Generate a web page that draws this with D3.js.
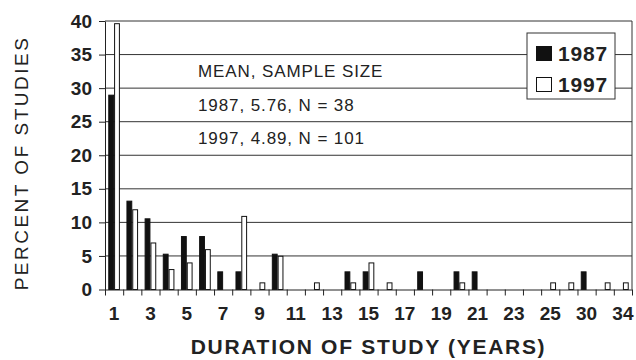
<!DOCTYPE html>
<html>
<head>
<meta charset="utf-8">
<script src="https://cdn.jsdelivr.net/npm/d3@7"></script>
<style>
  body { margin: 0; background: #fff; }
  svg { display: block; font-family: "Liberation Sans", Arial, Helvetica, sans-serif; }
</style>
</head>
<body>
<div class="chart"></div>
<script>
// duration categories (years) and which ones get a label
const categories = ['1','2','3','4','5','6','7','8','9','10','11','12','13','14','15','16','17','18','19','20','21','22','23','24','25','28','30','32','34'];
const tickLabels = ['1','3','5','7','9','11','13','15','17','19','21','23','25','30','34'];
const series = ['1987', '1997'];

// percent of studies
const pct1987 = [28.95,13.16,10.53,5.26,7.89,7.89,2.63,2.63,0,5.26,0,0,0,2.63,2.63,0,0,2.63,0,2.63,2.63,0,0,0,0,0,2.63,0,0];
const pct1997 = [39.60,11.88,6.93,2.97,3.96,5.94,0,10.89,0.99,4.95,0,0.99,0,0.99,3.96,0.99,0,0,0,0.99,0,0,0,0,0.99,0.99,0,0.99,0.99];

const yTicks = [0,5,10,15,20,25,30,35,40];
const notes = ['MEAN, SAMPLE SIZE', '1987, 5.76, N = 38', '1997, 4.89, N = 101'];
const notePos = [32.5, 27.5, 22.5];

const width = 636, height = 360;
const plotLeft = 105, plotRight = 632, plotTop = 21, plotBottom = 289.5;

const svg = d3.select('.chart')
    .append('svg')
    .attr('width', width)
    .attr('height', height);

const x = d3.scaleBand()
    .domain(categories)
    .range([plotLeft, plotRight])
    .paddingInner(0.36)
    .paddingOuter(0.18);

const xSub = d3.scaleBand()
    .domain(series)
    .range([0, x.bandwidth()]);

// boundaries between categories, for the tick marks
const xIdx = d3.scaleLinear()
    .domain([0, categories.length])
    .range([plotLeft, plotRight]);

const y = d3.scaleLinear()
    .domain([0, 40])
    .range([plotBottom, plotTop]);

const data = categories.map((c, i) => ({cat: c, '1987': pct1987[i], '1997': pct1997[i]}));

// grid
svg.append('g')
    .selectAll('line')
    .data(yTicks.filter(d => d > 0))
    .enter()
    .append('line')
    .attr('x1', plotLeft)
    .attr('x2', plotRight)
    .attr('y1', d => y(d))
    .attr('y2', d => y(d))
    .attr('stroke', '#333')
    .attr('stroke-width', 1);

// right frame
svg.append('line')
    .attr('x1', plotRight).attr('x2', plotRight)
    .attr('y1', y(40)).attr('y2', y(0))
    .attr('stroke', '#333')
    .attr('stroke-width', 1);

// notes
svg.append('g')
    .selectAll('text')
    .data(notes)
    .enter()
    .append('text')
    .attr('x', 198)
    .attr('y', (d, i) => y(notePos[i]) + 6)
    .attr('font-size', 17)
    .attr('letter-spacing', 0.9)
    .attr('fill', '#222')
    .text(d => d);

// bars
const groups = svg.append('g')
    .selectAll('g')
    .data(data)
    .enter()
    .append('g')
    .attr('transform', d => `translate(${x(d.cat)},0)`);

groups.selectAll('rect')
    .data(d => series.map(s => ({key: s, value: d[s]})).filter(v => v.value > 0))
    .enter()
    .append('rect')
    .attr('x', d => xSub(d.key) + 0.5)
    .attr('y', d => y(d.value))
    .attr('width', xSub.bandwidth() - 1)
    .attr('height', d => y(0) - y(d.value))
    .attr('fill', d => d.key === '1987' ? '#111' : '#fff')
    .attr('stroke', '#111')
    .attr('stroke-width', 1);

// x axis: ticks on category boundaries
svg.append('g')
    .attr('transform', `translate(0,${plotBottom})`)
    .call(d3.axisBottom(xIdx).tickValues(d3.range(0, categories.length + 1)).tickFormat('').tickSize(6).tickSizeOuter(0))
    .call(g => g.selectAll('line,path').attr('stroke', '#222'));

// x axis labels at category centres
svg.append('g')
    .attr('transform', `translate(0,${plotBottom})`)
    .call(d3.axisBottom(x).tickValues(tickLabels).tickSize(0).tickPadding(17))
    .call(g => g.select('.domain').remove())
    .selectAll('text')
    .attr('font-family', '"Liberation Sans", Arial, sans-serif')
    .attr('font-size', 19)
    .attr('font-weight', 'bold')
    .attr('fill', '#222');

// y axis
svg.append('g')
    .attr('transform', `translate(${plotLeft},0)`)
    .call(d3.axisLeft(y).tickValues(yTicks).tickSize(6).tickPadding(7).tickSizeOuter(0))
    .call(g => g.selectAll('line,path').attr('stroke', '#222'))
    .selectAll('text')
    .attr('font-family', '"Liberation Sans", Arial, sans-serif')
    .attr('font-size', 19)
    .attr('font-weight', 'bold')
    .attr('fill', '#222');

// axis titles
svg.append('text')
    .attr('x', (plotLeft + plotRight) / 2)
    .attr('y', 354)
    .attr('text-anchor', 'middle')
    .attr('font-size', 21)
    .attr('font-weight', 'bold')
    .attr('letter-spacing', 1.7)
    .attr('fill', '#222')
    .text('DURATION OF STUDY (YEARS)');

svg.append('text')
    .attr('transform', 'translate(28,163) rotate(-90)')
    .attr('text-anchor', 'middle')
    .attr('font-size', 19)
    .attr('letter-spacing', 2.5)
    .attr('fill', '#222')
    .text('PERCENT OF STUDIES');

// legend
const legend = svg.append('g').attr('transform', 'translate(527,33)');
legend.append('rect')
    .attr('width', 88)
    .attr('height', 66)
    .attr('fill', '#fff')
    .attr('stroke', '#333')
    .attr('stroke-width', 1);

const items = legend.selectAll('.item')
    .data(series)
    .enter()
    .append('g')
    .attr('class', 'item')
    .attr('transform', (d, i) => `translate(9,${13 + i * 31})`);

items.append('rect')
    .attr('x', 0.5)
    .attr('y', 0.5)
    .attr('width', 15)
    .attr('height', 14)
    .attr('fill', d => d === '1987' ? '#111' : '#fff')
    .attr('stroke', '#111')
    .attr('stroke-width', 1);

items.append('text')
    .attr('x', 22)
    .attr('y', 14.5)
    .attr('font-size', 21)
    .attr('font-weight', 'bold')
    .attr('letter-spacing', 0.8)
    .attr('fill', '#222')
    .text(d => d);
</script>
</body>
</html>
